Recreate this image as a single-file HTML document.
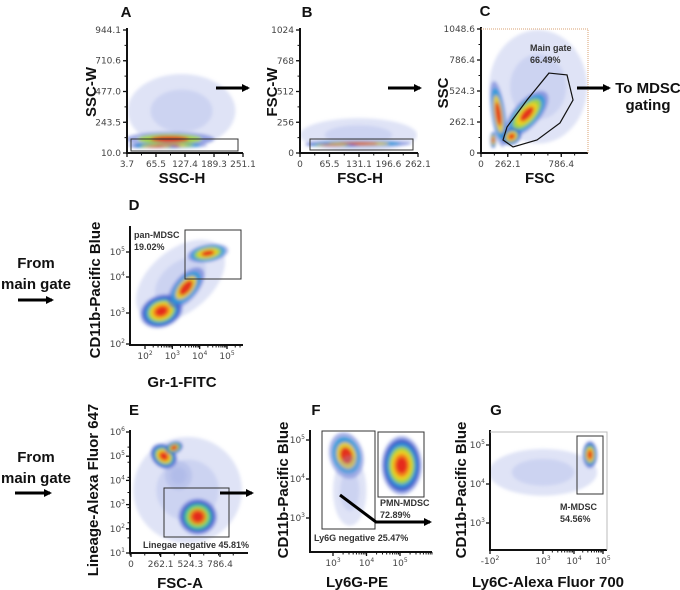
<!DOCTYPE html>
<html><head><meta charset="utf-8"><style>
html,body{margin:0;padding:0;background:#fff;}
svg{display:block;font-family:"Liberation Sans",sans-serif;}
.tl{font-family:"DejaVu Sans",sans-serif;font-size:9px;fill:#444;}
.at{font-weight:bold;font-size:15px;fill:#111;}
.pl{font-weight:bold;font-size:15px;fill:#111;}
.gt{font-weight:bold;font-size:9px;fill:#333;}
.side{font-weight:bold;font-size:15px;fill:#111;}
</style></head><body>
<svg id="fig" width="680" height="590" viewBox="0 0 680 590">
<defs>
<filter id="blur" x="-20%" y="-20%" width="140%" height="140%"><feGaussianBlur stdDeviation="1.6"/></filter>
<marker id="ah" markerWidth="8" markerHeight="8" refX="6" refY="4" orient="auto" markerUnits="userSpaceOnUse"><path d="M0,0 L8,4 L0,8 Z" fill="#000"/></marker>
</defs>
<g id="root"></g>
<g stroke="#000" stroke-width="3">
<line x1="216" y1="88" x2="248" y2="88" marker-end="url(#ah)"/>
<line x1="388" y1="88" x2="420" y2="88" marker-end="url(#ah)"/>
<line x1="577" y1="88" x2="609" y2="88" marker-end="url(#ah)"/>
<line x1="18" y1="300" x2="52" y2="300" marker-end="url(#ah)"/>
<line x1="15" y1="493" x2="50" y2="493" marker-end="url(#ah)"/>
<line x1="220" y1="493" x2="252" y2="493" marker-end="url(#ah)"/>
<polyline points="340,495 376,522 430,522" fill="none" marker-end="url(#ah)"/>
</g>
<text class="side" x="648" y="93" text-anchor="middle">To MDSC</text>
<text class="side" x="648" y="110" text-anchor="middle">gating</text>
<text class="side" x="36" y="268" text-anchor="middle">From</text>
<text class="side" x="36" y="289" text-anchor="middle">main gate</text>
<text class="side" x="36" y="462" text-anchor="middle">From</text>
<text class="side" x="36" y="483" text-anchor="middle">main gate</text>
</svg>
<script>
// ---------- data ----------
// cluster rows: [cx, cy, rx, ry, rotationDeg, level] in data units (log axes use exponents)
const clustersA=[[120,330,115,280,0,1],[95,115,95,55,0,2],[90,68,85,22,0,4],[65,58,55,11,0,6]];
const clustersB=[[130,150,130,140,0,1],[130,78,118,26,0,3],[70,66,60,12,0,6]];
const clustersC=[[560,560,480,480,0,1],[170,330,70,280,-8,3],[450,330,280,110,-48,4],[120,110,30,70,0,6],[300,140,100,70,-30,6]];
const clustersD=[[3.3,3.9,1.9,1.2,-40,1],[2.6,3.05,0.8,0.45,-20,6],[3.5,3.7,0.9,0.35,-50,3],[4.3,4.95,0.75,0.35,-10,4]];
const clustersE=[[500,3.6,480,2.2,0,1],[290,5.0,100,0.6,-50,6],[380,5.35,80,0.25,-20,5],[590,2.5,170,0.75,0,5],[420,4.2,120,0.6,0,1]];
const clustersF=[[5.05,4.35,0.6,0.75,0,6],[3.4,4.6,0.5,0.6,-15,3],[3.5,3.7,0.5,0.9,0,1]];
const clustersG=[[4.55,4.75,0.25,0.35,0,6],[3,4.3,1.8,0.6,0,1]];
const linTicksA_x=[3.7,65.5,127.4,189.3,251.1], linTicksA_y=[10.0,243.5,477.0,710.6,944.1];
const linTicksB_x=[0,65.5,131.1,196.6,262.1], linTicksB_y=[0,256,512,768,1024];
const linTicksC_x=[0,262.1,786.4], linTicksC_y=[0,262.1,524.3,786.4,1048.6];
const logTicksD_x=[2,3,4,5], logTicksD_y=[2,3,4,5];
const linTicksE_x=[0,262.1,524.3,786.4], logTicksE_y=[1,2,3,4,5,6];
const logTicksF_x=[3,4,5], logTicksF_y=[3,4,5];
const logTicksG_x=[-2,3,4,5], logTicksG_y=[3,4,5];
const gateC=[[666,676],[843,660],[902,448],[774,254],[549,110],[314,51],[216,110],[255,220],[451,448]];
// ---------- helpers ----------
const NS='http://www.w3.org/2000/svg';
const root=document.getElementById('root');
function mk(t,a,p){const e=document.createElementNS(NS,t);for(const k in a)e.setAttribute(k,a[k]);(p||root).appendChild(e);return e;}
function lin(d0,d1,p0,p1){return v=>p0+(v-d0)/(d1-d0)*(p1-p0);}
function pw(keys,pix){return v=>{let i=0;while(i<keys.length-2&&v>keys[i+1])i++;return pix[i]+(v-keys[i])/(keys[i+1]-keys[i])*(pix[i+1]-pix[i]);};}
const palette=['#4a60d0','#3a55c8','#2a9ad8','#36c4a0','#a6d935','#f5d020','#f37a1f','#e3201b'];
function fmt(v){return v.toFixed(1);}
function drawPanel(P){
  const g=mk('g',{});
  
  
  const cid='clip'+P.id;
  const cp=mk('clipPath',{id:cid},g);mk('rect',{x:P.x0,y:P.y0,width:P.x1-P.x0,height:P.y1-P.y0},cp);
  const dens=mk('g',{'clip-path':'url(#'+cid+')'},g);
  
  
  const inner=mk('g',{filter:'url(#blur)'},dens);
  P.clusters.forEach(c=>{
    const cx=P.xm(c[0]),cy=P.ym(c[1]);
    const rx=Math.abs(P.xm(c[0]+c[2])-cx),ry=Math.abs(P.ym(c[1]+c[3])-cy);
    const L=c[5];
    for(let k=0;k<=L;k++){
      const s=1-k/(L+1)*0.85;
      const col=L===1?'#95a3e0':palette[Math.min(7,Math.round(k*7/L))];
      const op=L===1?(k===0?0.3:0.25):(k===0?0.5:0.9);
      const e=mk('ellipse',{cx:cx,cy:cy,rx:rx*s,ry:ry*s,fill:col,opacity:op,transform:'rotate('+c[4]+' '+cx+' '+cy+')'},inner);
      
      
    }
  });
  const ax=mk('g',{stroke:'#111','stroke-width':2,fill:'none'},g);
  
  
  mk('line',{x1:P.x0,y1:P.y0-2,x2:P.x0,y2:P.y1+1},ax);
  mk('line',{x1:P.x0-1,y1:P.y1,x2:P.x1,y2:P.y1},ax);
  P.xt.forEach((v,i)=>{const x=P.xm(v);mk('line',{x1:x,y1:P.y1,x2:x,y2:P.y1+4,'stroke-width':1.3},ax);
    const t=mk('text',{x:x,y:P.y1+14,'text-anchor':'middle',class:'tl'},g);
    
    if(P.xlog){t.textContent=(v<0?'-':'')+'10';const s=mk('tspan',{dy:-4,'font-size':6},t);s.textContent=Math.abs(v);}
    else t.textContent=P.xl?P.xl[i]:fmt(v);
    if(P.xlog){for(let m=2;m<10;m++){const xx=P.xm(v+Math.log10(m));if(xx<P.x1&&v>0)mk('line',{x1:xx,y1:P.y1,x2:xx,y2:P.y1+2.5,'stroke-width':1},ax);}}
  });
  P.yt.forEach((v,i)=>{const y=P.ym(v);mk('line',{x1:P.x0-4,y1:y,x2:P.x0,y2:y,'stroke-width':1.3},ax);
    const t=mk('text',{x:P.x0-(P.ylog?5:6),y:y+3,'text-anchor':'end',class:'tl'},g);
    
    if(P.ylog){t.textContent='10';const s=mk('tspan',{dy:-4,'font-size':6},t);s.textContent=v;}
    else t.textContent=P.yl?P.yl[i]:fmt(v);
  });
  if(!P.xlog){for(let i=0;i<8;i++){const x=P.x0+(P.x1-P.x0)*i/8;mk('line',{x1:x,y1:P.y1,x2:x,y2:P.y1+2.5,'stroke-width':1},ax);}
    for(let i=0;i<8;i++){const y=P.y1-(P.y1-P.y0)*i/8;mk('line',{x1:P.x0-2.5,y1:y,x2:P.x0,y2:y,'stroke-width':1},ax);}}
  const xt=mk('text',{x:P.xtx,y:P.xty,'text-anchor':'middle',class:'at'},g);xt.textContent=P.xtitle;
  
  const yt=mk('text',{x:0,y:0,'text-anchor':'middle',class:'at',transform:'translate('+P.ytx+','+P.yty+') rotate(-90)'},g);yt.textContent=P.ytitle;
  
  const lb=mk('text',{x:P.lx,y:P.ly,'text-anchor':'middle',class:'pl'},g);lb.textContent=P.id;
  
  return g;
}
function gate(x,y,w,h,nm){const r=mk('rect',{x:x,y:y,width:w,height:h,fill:'none',stroke:'#333','stroke-width':1});
  }
function label(x,y,s,nm){const t=mk('text',{x:x,y:y,class:'gt'});t.textContent=s;
  }
const PA={id:'A',x0:127,x1:243,y0:30,y1:153,clusters:clustersA,xt:linTicksA_x,yt:linTicksA_y,xl:['3.7','65.5','127.4','189.3','251.1'],yl:['10.0','243.5','477.0','710.6','944.1'],
  xtitle:'SSC-H',xtx:182,xty:183,ytitle:'SSC-W',ytx:96,yty:92,lx:126,ly:17};
PA.xm=lin(3.7,251.1,127,243);PA.ym=lin(10,944.1,153,30);
const PB={id:'B',x0:300,x1:418,y0:30,y1:153,clusters:clustersB,xt:linTicksB_x,yt:linTicksB_y,xl:['0','65.5','131.1','196.6','262.1'],yl:['0','256','512','768','1024'],
  xtitle:'FSC-H',xtx:360,xty:183,ytitle:'FSC-W',ytx:277,yty:92,lx:307,ly:17};
PB.xm=lin(0,262.1,300,418);PB.ym=lin(0,1024,153,30);
const PC={id:'C',x0:481,x1:588,y0:29,y1:153,clusters:clustersC,xt:linTicksC_x,yt:linTicksC_y,xl:['0','262.1','786.4'],yl:['0','262.1','524.3','786.4','1048.6'],
  xtitle:'FSC',xtx:540,xty:183,ytitle:'SSC',ytx:448,yty:93,lx:485,ly:16};
PC.xm=lin(0,1048.6,481,588);PC.ym=lin(0,1048.6,153,29);
const PD={id:'D',x0:130,x1:243,y0:228,y1:345,clusters:clustersD,xt:logTicksD_x,yt:logTicksD_y,xlog:true,ylog:true,
  xtitle:'Gr-1-FITC',xtx:182,xty:387,ytitle:'CD11b-Pacific Blue',ytx:100,yty:290,lx:134,ly:210};
PD.xm=lin(2,5,145,227);PD.ym=pw([1.5,2,3,4,5,6],[360,344,313,277,252,227]);
const PE={id:'E',x0:130,x1:248,y0:432,y1:553,clusters:clustersE,xt:linTicksE_x,yt:logTicksE_y,ylog:true,xl:['0','262.1','524.3','786.4'],
  xtitle:'FSC-A',xtx:180,xty:588,ytitle:'Lineage-Alexa Fluor 647',ytx:98,yty:490,lx:134,ly:415};
PE.xm=lin(0,786.4,131,220);PE.ym=lin(1,6,553,432);
const PF={id:'F',x0:310,x1:432,y0:432,y1:552,clusters:clustersF,xt:logTicksF_x,yt:logTicksF_y,xlog:true,ylog:true,
  xtitle:'Ly6G-PE',xtx:357,xty:587,ytitle:'CD11b-Pacific Blue',ytx:288,yty:490,lx:316,ly:415};
PF.xm=lin(3,5,333,400);PF.ym=lin(3,5,518,440);
const PG={id:'G',x0:490,x1:607,y0:432,y1:550,clusters:clustersG,xt:logTicksG_x,yt:logTicksG_y,xlog:true,ylog:true,
  xtitle:'Ly6C-Alexa Fluor 700',xtx:548,xty:587,ytitle:'CD11b-Pacific Blue',ytx:466,yty:490,lx:496,ly:415};
PG.xm=pw([-3,-2,3,4,5,6],[480,490,543,574,603,632]);PG.ym=lin(3,5,523,445);
[PA,PB,PC,PD,PE,PF,PG].forEach(drawPanel);
mk('polyline',{points:'481,29 588,29 588,153',fill:'none',stroke:'#d8a070','stroke-width':1,'stroke-dasharray':'1,1'});
mk('polyline',{points:'490,432 607,432 607,550',fill:'none',stroke:'#bbb','stroke-width':1});
gate(131,139,107,12,'singlet-gate-a');
gate(310,139,103,11,'singlet-gate-b');
const gp=mk('polygon',{points:gateC.map(p=>PC.xm(p[0])+','+PC.ym(p[1])).join(' '),fill:'none',stroke:'#111','stroke-width':1.2});

label(530,51,'Main gate','main-gate-label');label(530,63,'66.49%','main-gate-percent');
gate(185,230,56,49,'pan-mdsc-gate');
label(134,238,'pan-MDSC','pan-mdsc-label');label(134,250,'19.02%','pan-mdsc-percent');
gate(164,488,65,49,'lineage-negative-gate');
label(143,548,'Linegae negative 45.81%','lineage-negative-label');
gate(322,431,53,98,'ly6g-negative-gate');
gate(378,432,46,65,'pmn-mdsc-gate');
label(380,506,'PMN-MDSC','pmn-mdsc-label');label(380,518,'72.89%','pmn-mdsc-percent');
label(314,541,'Ly6G negative 25.47%','ly6g-negative-label');
gate(577,436,26,58,'m-mdsc-gate');
label(560,510,'M-MDSC','m-mdsc-label');label(560,522,'54.56%','m-mdsc-percent');
</script>
</body></html>
